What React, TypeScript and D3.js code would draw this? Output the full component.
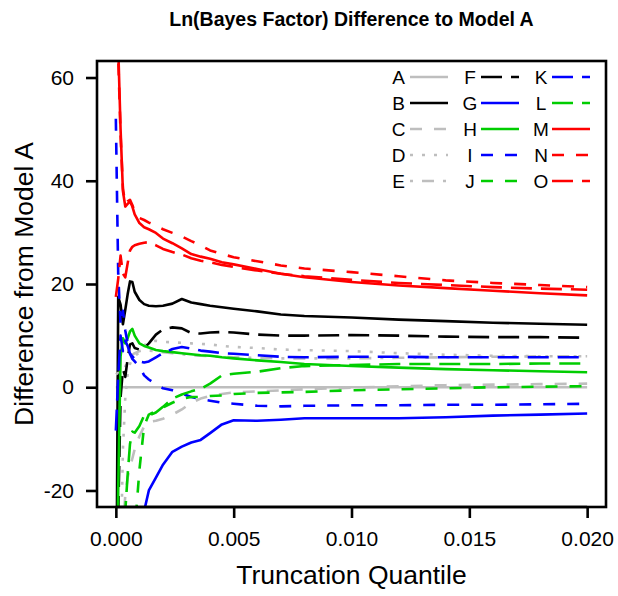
import React, { useRef, useEffect } from 'react';
import * as d3 from 'd3';

// truncation quantiles (x)
const quantiles = [0, 0.0001, 0.0002, 0.0003, 0.0004, 0.0005, 0.0006, 0.0007, 0.0008, 0.001,
  0.0012, 0.0014, 0.0017, 0.002, 0.0024, 0.0028, 0.0032, 0.0036, 0.004, 0.0045,
  0.005, 0.006, 0.007, 0.008, 0.01, 0.012, 0.014, 0.016, 0.018, 0.02];

// ln(BF) difference from model A, one array per model
const modelA = [0, 0, 0, 0, 0, 0, 0, 0, 0, 0, 0, 0, 0, 0, 0, 0, 0, 0, 0, 0, 0, 0, 0, 0, 0, 0, 0, 0, 0, 0];
const modelB = [-60, 17.5, 16, 12.2, 15, 18, 20.5, 20.4, 18.5, 16.9, 16.1, 15.8, 15.7, 15.8, 16.2, 17.1, 16.4, 16.1, 15.8, 15.5, 15.2, 14.7, 14.1, 13.8, 13.5, 13.1, 12.8, 12.5, 12.3, 12.1];
const modelC = [-70, -50, -36, -27, -21, -17.5, -15.5, -13.8, -12, -9.5, -7.6, -6.7, -6.5, -6.1, -5.3, -4.3, -3.0, -2.2, -1.7, -1.3, -1.0, -0.8, -0.6, -0.4, -0.1, 0.2, 0.4, 0.5, 0.6, 0.7];
const modelD = [-70, -55, -35, -12, -2, 2.5, 4.5, 5.5, 6, 6.8, 8.1, 8.8, 9.0, 8.8, 8.7, 8.6, 8.5, 8.4, 8.3, 8.0, 7.8, 7.6, 7.3, 7.2, 7.0, 6.6, 6.3, 6.1, 6.0, 6.0];
const modelE = [2.5, 2.8, 0.5, 3, 4, 5, 5.8, 6.3, 6.6, 7, 7.2, 7.1, 7, 6.8, 6.6, 6.4, 6.2, 6.1, 6.0, 5.9, 5.8, 5.7, 5.6, 5.6, 5.6, 5.7, 5.8, 5.9, 6.0, 6.0];
const modelF = [-60, -25, -2, 3.5, 2, 5.5, 8.3, 8.5, 7.6, 7.3, 7.6, 8.5, 10.2, 11.2, 11.6, 11.4, 10.5, 10.4, 10.6, 10.7, 10.6, 10.2, 10.0, 10.0, 10.1, 10.0, 9.8, 9.7, 9.7, 9.6];
const modelG = [-90, -85, -80, -75, -70, -65, -60, -55, -50, -36, -24, -20, -17.5, -15, -12.5, -11.5, -10.7, -10.2, -8.9, -7.2, -6.4, -6.5, -6.3, -6.0, -6.0, -6.0, -5.8, -5.5, -5.3, -5.1];
const modelH = [-60, -20, 6, 9.5, 8.5, 9.5, 10.8, 11.3, 10, 8.5, 8.0, 7.7, 7.2, 7.0, 6.8, 6.6, 6.4, 6.2, 6.1, 5.8, 5.6, 5.2, 4.9, 4.5, 4.1, 3.8, 3.5, 3.3, 3.1, 2.9];
const modelI = [52, 22, 12, 14.8, 11, 8.5, 6.5, 5.5, 5, 4, 2.3, 1.5, 0.6, -0.2, -0.6, -1.2, -1.9, -2.3, -2.6, -3.0, -3.2, -3.6, -3.7, -3.6, -3.5, -3.5, -3.4, -3.4, -3.3, -3.2];
const modelJ = [-90, -80, -70, -60, -50, -42, -36, -32, -28, -16, -7.5, -5.3, -4.6, -3.9, -3.0, -2.2, -1.9, -1.9, -1.7, -1.6, -1.3, -1.1, -1.0, -0.9, -0.6, -0.4, -0.2, 0.0, 0.1, 0.2];
const modelK = [-8.4, 2, 10, 7, 9, 8, 6.5, 6, 5.5, 5.0, 4.8, 5.0, 5.8, 6.6, 7.4, 7.8, 7.5, 7.1, 6.9, 6.6, 6.5, 6.2, 5.9, 5.8, 5.9, 5.9, 5.8, 5.8, 5.8, 5.8];
const modelL = [-90, -70, -45, -32, -24, -17, -11, -8.6, -8.8, -7.5, -5.5, -5.5, -4.9, -3.8, -2.2, -1.4, -0.8, -0.3, 0.7, 2.3, 2.6, 3.0, 3.7, 4.1, 4.3, 4.5, 4.5, 4.5, 4.6, 4.6];
const modelM = [75, 66, 50, 38, 35, 35.5, 36, 35, 33.5, 31.8, 31.0, 30.6, 29.9, 28.8, 27.9, 26.9, 25.8, 25.3, 24.9, 24.2, 23.8, 22.9, 22.0, 21.3, 20.4, 19.7, 19.2, 18.7, 18.2, 17.8];
const modelN = [72, 64, 49, 38.5, 35.5, 36, 36.3, 35.3, 34, 32.8, 32.4, 31.9, 31.3, 30.6, 29.9, 29.2, 28.3, 27.5, 26.5, 25.8, 25.2, 24.4, 23.6, 23.0, 22.3, 21.5, 20.7, 20.2, 19.8, 19.4];
const modelO = [17.5, 21, 25.5, 22, 21.3, 24, 26.5, 27.2, 27.5, 27.8, 28.0, 28.1, 27.5, 26.8, 26.2, 25.7, 25.0, 24.5, 24.2, 23.7, 23.3, 22.6, 22.0, 21.5, 20.8, 20.2, 19.8, 19.4, 19.1, 18.9];

const modelNames = ['A', 'B', 'C', 'D', 'E', 'F', 'G', 'H', 'I', 'J', 'K', 'L', 'M', 'N', 'O'];
const modelValues = [modelA, modelB, modelC, modelD, modelE, modelF, modelG, modelH, modelI, modelJ, modelK, modelL, modelM, modelN, modelO];

const xTicks = [0, 0.005, 0.01, 0.015, 0.02];
const yTicks = [-20, 0, 20, 40, 60];

// R-like colours and line types
const colors = ['#BEBEBE', '#000000', '#BEBEBE', '#BEBEBE', '#BEBEBE', '#000000', '#0000FF', '#00CD00',
  '#0000FF', '#00CD00', '#0000FF', '#00CD00', '#FF0000', '#FF0000', '#FF0000'];
const u = 3;
const ltys: Record<string, string> = {
  solid: 'none',
  dashed: `${4 * u} ${4 * u}`,
  dotted: `${u} ${3 * u}`,
  dotdash: `${u} ${3 * u} ${4 * u} ${3 * u}`,
  longdash: `${7 * u} ${3 * u}`,
};
const lineTypes = ['solid', 'solid', 'dashed', 'dotted', 'dotdash', 'longdash', 'solid', 'solid',
  'dashed', 'dashed', 'longdash', 'longdash', 'solid', 'dashed', 'longdash'];

const W = 618;
const H = 596;
const FONT = "'Liberation Sans', Arial, Helvetica, sans-serif";

const App: React.FC = () => {
  const svgRef = useRef<SVGSVGElement | null>(null);

  useEffect(() => {
    const svg = d3.select(svgRef.current);
    svg.selectAll('*').remove();

    const left = 97, right = 606, top = 61, bottom = 507;
    const x = d3.scaleLinear().domain([-0.0008, 0.0208]).range([left, right]);
    const y = d3.scaleLinear().domain([-23.2, 63.2]).range([bottom, top]);

    svg.append('rect').attr('width', W).attr('height', H).attr('fill', '#fff');

    svg.append('defs').append('clipPath').attr('id', 'plotClip')
      .append('rect')
      .attr('x', left).attr('y', top)
      .attr('width', right - left).attr('height', bottom - top);

    // Lines
    const line = d3.line<number>()
      .x((_, i) => x(quantiles[i]))
      .y(d => y(d));

    const lines = svg.append('g').attr('clip-path', 'url(#plotClip)');
    modelValues.forEach((vals, i) => {
      lines.append('path')
        .datum(vals)
        .attr('d', line)
        .attr('fill', 'none')
        .attr('stroke', colors[i])
        .attr('stroke-width', 2.6)
        .attr('stroke-linejoin', 'round')
        .attr('stroke-dasharray', ltys[lineTypes[i]]);
    });

    // Box
    svg.append('rect')
      .attr('x', left).attr('y', top)
      .attr('width', right - left).attr('height', bottom - top)
      .attr('fill', 'none')
      .attr('stroke', '#000')
      .attr('stroke-width', 2.6);

    // Axes
    const xAxis = svg.append('g')
      .attr('transform', `translate(0,${bottom})`)
      .call(d3.axisBottom(x).tickValues(xTicks).tickSize(11).tickSizeOuter(0).tickPadding(13)
        .tickFormat(d => (d as number).toFixed(3)));
    xAxis.select('.domain').remove();
    xAxis.append('line')
      .attr('x1', x(xTicks[0])).attr('x2', x(xTicks[xTicks.length - 1]))
      .attr('stroke', '#000').attr('stroke-width', 2.6);

    const yAxis = svg.append('g')
      .attr('transform', `translate(${left},0)`)
      .call(d3.axisLeft(y).tickValues(yTicks).tickSize(11).tickSizeOuter(0).tickPadding(12)
        .tickFormat(d => String(d)));
    yAxis.select('.domain').remove();

    [xAxis, yAxis].forEach(a => {
      a.selectAll('line').attr('stroke', '#000').attr('stroke-width', 2.6);
      a.selectAll('text')
        .attr('fill', '#000')
        .attr('font-size', 21)
        .attr('font-family', FONT);
    });

    // Titles
    svg.append('text')
      .attr('x', (left + right) / 2).attr('y', 26)
      .attr('text-anchor', 'middle')
      .attr('font-family', FONT).attr('font-weight', 'bold').attr('font-size', 19.5)
      .text('Ln(Bayes Factor) Difference to Model A');

    svg.append('text')
      .attr('x', (left + right) / 2).attr('y', 584)
      .attr('text-anchor', 'middle')
      .attr('font-family', FONT).attr('font-size', 26.5)
      .text('Truncation Quantile');

    svg.append('text')
      .attr('transform', `translate(33,${(top + bottom) / 2}) rotate(-90)`)
      .attr('text-anchor', 'middle')
      .attr('font-family', FONT).attr('font-size', 26.5)
      .text('Difference from Model A');

    // Legend
    const colText = [398.5, 470, 541];
    const colLine = [410, 481, 552];
    const legend = svg.append('g');
    modelNames.forEach((name, i) => {
      const col = Math.floor(i / 5);
      const row = i % 5;
      const ly = 77 + row * 26;
      legend.append('text')
        .attr('x', colText[col]).attr('y', ly + 7)
        .attr('text-anchor', 'middle')
        .attr('font-family', FONT).attr('font-size', 19)
        .text(name);
      legend.append('line')
        .attr('x1', colLine[col]).attr('x2', colLine[col] + 38)
        .attr('y1', ly).attr('y2', ly)
        .attr('stroke', colors[i])
        .attr('stroke-width', 2.6)
        .attr('stroke-dasharray', ltys[lineTypes[i]]);
    });
  }, []);

  return (
    <svg ref={svgRef} width={W} height={H} style={{ position: 'absolute', left: 0, top: 0 }} />
  );
};

export default App;
